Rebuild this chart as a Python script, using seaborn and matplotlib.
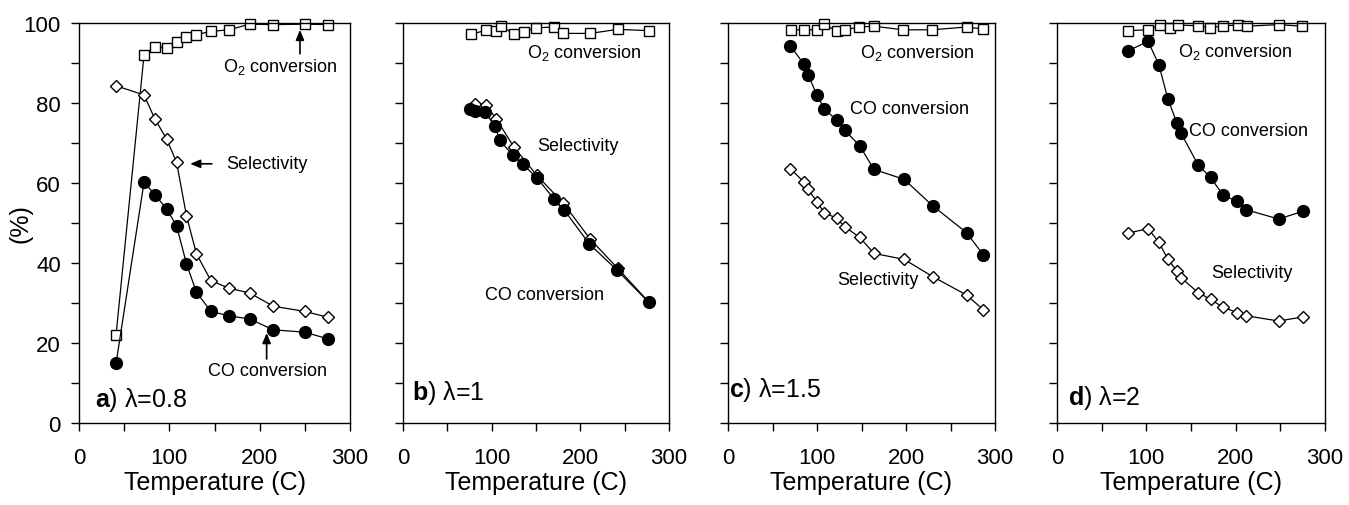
import matplotlib
matplotlib.use('Agg')
import matplotlib.pyplot as plt
import seaborn as sns

# %%
# panel a) lambda=0.8
a_temp = [41, 72, 84, 97, 108, 119, 130, 146, 166, 189, 215, 250, 276]
a_o2 = [22, 92, 94.1, 93.8, 95.2, 96.4, 97.1, 97.9, 98.3, 99.7, 99.6, 99.7, 99.6]
a_sel = [84.3, 82, 76, 71, 65.2, 51.8, 42.3, 35.6, 33.7, 32.5, 29.2, 27.9, 26.4]
a_co = [14.9, 60.2, 57.1, 53.5, 49.3, 39.8, 32.7, 27.9, 26.8, 26, 23.3, 22.7, 21]

# panel b) lambda=1
b_temp_o2 = [77, 94, 105, 111, 125, 136, 150, 170, 181, 211, 242, 277]
b_o2 = [97.2, 98.2, 98.0, 99.3, 97.2, 97.8, 98.8, 99.0, 97.4, 97.4, 98.4, 98.1]
b_temp_sel = [81, 94, 105, 125, 151, 181, 211, 242, 277]
b_sel = [79.8, 79.4, 76.1, 69.0, 61.9, 54.9, 46.0, 38.7, 30.3]
b_temp_co = [75, 81, 92, 104, 109, 124, 135, 151, 170, 182, 210, 241, 277]
b_co = [78.6, 78.0, 77.8, 74.2, 70.7, 66.9, 64.7, 61.3, 56.1, 53.2, 44.8, 38.3, 30.2]

# panel c) lambda=1.5
c_temp_o2 = [71, 85, 100, 108, 122, 132, 147, 164, 197, 229, 268, 286]
c_o2 = [98.3, 98.3, 98.3, 99.7, 98.0, 98.3, 99.0, 99.2, 98.3, 98.3, 99.0, 98.5]
c_temp = [70, 85, 90, 100, 108, 122, 131, 148, 164, 198, 230, 268, 287]
c_co = [94.3, 89.8, 87.1, 81.9, 78.6, 75.7, 73.2, 69.3, 63.4, 60.9, 54.3, 47.6, 42.0]
c_sel = [63.6, 60.3, 58.4, 55.3, 52.6, 51.2, 49.1, 46.4, 42.4, 40.9, 36.6, 32.0, 28.3]

# panel d) lambda=2
d_temp_o2 = [80, 102, 115, 127, 136, 158, 171, 186, 203, 213, 248, 274]
d_o2 = [98.1, 98.3, 99.5, 98.7, 99.5, 99.3, 98.8, 99.3, 99.5, 99.2, 99.6, 99.2]
d_temp = [80, 102, 114, 124, 134, 139, 158, 172, 186, 202, 212, 248, 275]
d_co = [93.1, 95.4, 89.6, 81.1, 75.1, 72.4, 64.5, 61.4, 56.9, 55.4, 53.3, 51.0, 52.9]
d_sel = [47.5, 48.6, 45.2, 41.0, 38.0, 36.3, 32.6, 30.9, 28.9, 27.6, 26.8, 25.5, 26.5]

# %%
sns.set_style('ticks')
plt.rcParams['font.family'] = ['Liberation Sans', 'DejaVu Sans']
plt.rcParams['mathtext.fontset'] = 'custom'
plt.rcParams['mathtext.rm'] = 'Liberation Sans'
plt.rcParams['mathtext.it'] = 'Liberation Sans:italic'
plt.rcParams['mathtext.bf'] = 'Liberation Sans:bold'
plt.rcParams['axes.linewidth'] = 1.0
plt.rcParams['axes.edgecolor'] = 'black'
plt.rcParams['text.color'] = 'black'
plt.rcParams['axes.labelcolor'] = 'black'
plt.rcParams['xtick.color'] = 'black'
plt.rcParams['ytick.color'] = 'black'

fig = plt.figure(figsize=(13.49, 5.06), dpi=100)

boxes = [(79, 271), (403, 266), (728, 267), (1057, 268)]
axes = []
for left, width in boxes:
    ax = fig.add_axes([left / 1349, 82 / 506, width / 1349, 400 / 506])
    axes.append(ax)


def draw(ax, x, y, kind):
    if kind == 'o2':
        st = dict(marker='s', markersize=7.5, markerfacecolor='white')
    elif kind == 'sel':
        st = dict(marker='D', markersize=5.7, markerfacecolor='white')
    else:
        st = dict(marker='o', markersize=8.5, markerfacecolor='black')
    sns.lineplot(x=x, y=y, ax=ax, color='black', linewidth=0.9,
                 markeredgecolor='black', markeredgewidth=1.0,
                 clip_on=False, **st)


draw(axes[0], a_temp, a_o2, 'o2')
draw(axes[0], a_temp, a_sel, 'sel')
draw(axes[0], a_temp, a_co, 'co')

draw(axes[1], b_temp_o2, b_o2, 'o2')
draw(axes[1], b_temp_sel, b_sel, 'sel')
draw(axes[1], b_temp_co, b_co, 'co')

draw(axes[2], c_temp_o2, c_o2, 'o2')
draw(axes[2], c_temp, c_co, 'co')
draw(axes[2], c_temp, c_sel, 'sel')

draw(axes[3], d_temp_o2, d_o2, 'o2')
draw(axes[3], d_temp, d_co, 'co')
draw(axes[3], d_temp, d_sel, 'sel')

# %%
o2_txt = 'O$_2$ conversion'
notes = [
    [(159, 89.3, o2_txt), (163, 64.8, 'Selectivity'), (143, 13.1, 'CO conversion')],
    [(139.6, 92.7, o2_txt), (150.9, 69.4, 'Selectivity'), (92.5, 32, 'CO conversion')],
    [(148.7, 92.8, o2_txt), (136.7, 78.6, 'CO conversion'), (122.5, 35.8, 'Selectivity')],
    [(135.3, 92.9, o2_txt), (148, 73, 'CO conversion'), (172.2, 37.6, 'Selectivity')],
]
panel_lbl = [(17.7, 4.2, 'a', '0.8'), (10.6, 6.1, 'b', '1'),
             (1.1, 6.7, 'c', '1.5'), (11.9, 4.8, 'd', '2')]

for i, ax in enumerate(axes):
    ax.set_xlim(0, 300)
    ax.set_ylim(0, 100)
    ax.set_xticks(range(0, 301, 50))
    ax.set_xticklabels(['0', '', '100', '', '200', '', '300'], fontsize=16)
    ax.set_yticks(range(0, 101, 10))
    if i == 0:
        ax.set_yticklabels(['0', '', '20', '', '40', '', '60', '', '80', '', '100'], fontsize=16)
        ax.set_ylabel('(%)', fontsize=18)
        ax.yaxis.set_label_coords(-0.17, 0.5)
    else:
        ax.set_yticklabels([])
        ax.set_ylabel('')
    ax.tick_params(axis='x', direction='out', length=6, width=1, pad=11)
    ax.tick_params(axis='y', direction='out', length=6, width=1, pad=7)
    ax.set_xlabel('Temperature (C)', fontsize=18, labelpad=2)
    for tx, ty, s in notes[i]:
        ax.text(tx, ty, s, fontsize=13, ha='left', va='center')
    px, py, letter, lam = panel_lbl[i]
    ax.text(px, py, r'$\mathbf{%s}$) λ=%s' % (letter, lam), fontsize=18,
            ha='left', va='baseline')

arrow = dict(arrowstyle='-|>,head_length=0.6,head_width=0.25', color='black', lw=1.2,
             shrinkA=0, shrinkB=0)
axes[0].annotate('', xy=(244.6, 98.3), xytext=(244.6, 92.3), arrowprops=arrow)
axes[0].annotate('', xy=(123, 64.8), xytext=(147, 64.8), arrowprops=arrow)
axes[0].annotate('', xy=(207.7, 22.5), xytext=(207.7, 16), arrowprops=arrow)

fig.savefig('out.png', dpi=100)
